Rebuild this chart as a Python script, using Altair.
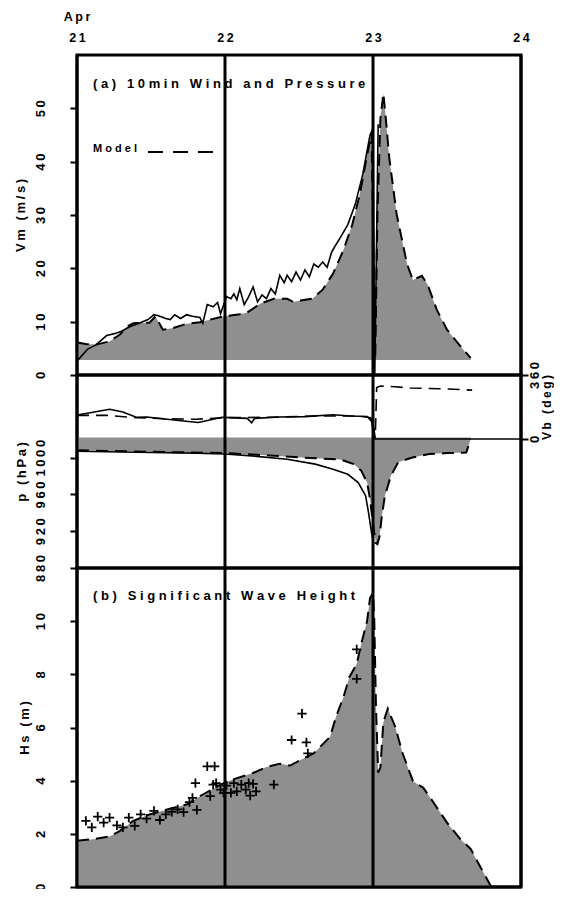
import altair as alt
import pandas as pd

FONT = "Liberation Sans"
GRAY = "#8f8f8f"
NB = "\u00a0"
TH = "\u2009"

# ---------------- data ----------------
x_ticks = [21, 22, 23, 24]
month_label = "Apr"
day_lines = [21, 22, 23, 24]

vm_ticks = [0, 10, 20, 30, 40, 50]
p_ticks = [880, 920, 960, 1000]
vb_ticks = [0, 360]
hs_ticks = [0, 2, 4, 6, 8, 10]

# (a) wind speed
vm_base = 2.8
vm_model_day = [21.00, 21.06, 21.13, 21.22, 21.29, 21.34, 21.38, 21.49, 21.53, 21.58, 21.65, 21.74,
                21.83, 21.99, 22.10, 22.15, 22.24, 22.33, 22.42, 22.46, 22.52, 22.59, 22.66, 22.73,
                22.80, 22.86, 22.91, 22.96, 22.99, 23.005, 23.015, 23.03, 23.05, 23.07, 23.09, 23.11,
                23.16, 23.23, 23.27, 23.33, 23.37, 23.43, 23.50, 23.59, 23.66]
vm_model_val = [6.1, 5.8, 5.7, 6.3, 7.6, 9.1, 9.7, 9.8, 11.0, 8.5, 8.8, 9.6,
                9.9, 11.0, 11.4, 11.7, 13.4, 14.3, 14.3, 13.7, 14.0, 14.3, 16.0, 19.0,
                23.4, 28.2, 33.8, 41.2, 45.3, 20.0, 3.2, 30.0, 48.0, 52.8, 47.0, 40.7,
                30.1, 20.8, 17.8, 18.6, 16.9, 12.3, 8.5, 5.4, 3.2]
vm_obs_day = [21.00, 21.07, 21.13, 21.20, 21.26, 21.30, 21.36, 21.42, 21.48, 21.52, 21.55, 21.60,
              21.63, 21.66, 21.70, 21.74, 21.78, 21.83, 21.85, 21.88, 21.92, 21.95, 21.97, 22.01,
              22.04, 22.06, 22.08, 22.10, 22.13, 22.16, 22.19, 22.22, 22.25, 22.28, 22.31, 22.34,
              22.37, 22.40, 22.42, 22.45, 22.48, 22.51, 22.54, 22.57, 22.60, 22.63, 22.66, 22.69,
              22.72, 22.74, 22.78, 22.83, 22.88, 22.93, 22.98, 23.00, 23.012, 23.035]
vm_obs_val = [2.6, 4.8, 5.7, 7.4, 7.8, 8.2, 9.1, 9.7, 10.4, 11.3, 11.1, 10.6,
              10.4, 11.3, 10.6, 11.3, 11.0, 10.8, 9.7, 13.2, 12.8, 13.6, 11.5, 14.7,
              14.3, 15.2, 14.1, 16.2, 13.2, 14.7, 16.5, 13.7, 15.0, 14.3, 16.2, 15.2,
              18.7, 17.3, 18.7, 17.5, 19.3, 17.8, 19.7, 18.4, 20.8, 20.2, 21.2, 20.2,
              23.0, 24.0, 25.8, 28.2, 32.0, 37.5, 45.0, 46.2, 0.3, 47.0]

# pressure
p_base = 1022
p_model_day = [21.0, 21.5, 22.0, 22.3, 22.54, 22.78, 22.87, 22.92, 22.96, 22.98, 23.005, 23.02,
               23.03, 23.045, 23.06, 23.08, 23.12, 23.17, 23.26, 23.38, 23.50, 23.63, 23.66]
p_model_val = [1008, 1006.5, 1005, 1002.5, 1000, 998, 993, 986, 973, 955, 922, 907,
               906, 915, 937, 958, 980, 995, 1000, 1004, 1005, 1005.7, 1020]
p_obs_day = [21.0, 21.2, 21.5, 21.8, 22.0, 22.18, 22.42, 22.61, 22.73, 22.83, 22.90, 22.95,
             22.97, 22.99, 23.005]
p_obs_val = [1007, 1006.5, 1005.7, 1005, 1004, 1002, 998.4, 993, 987.5, 982, 973, 958.7,
             940, 918.5, 906]

# wind direction
vb_obs_day = [21.0, 21.09, 21.22, 21.31, 21.40, 21.47, 21.61, 21.72, 21.82, 21.92, 21.98, 22.03,
              22.15, 22.18, 22.20, 22.37, 22.54, 22.73, 22.85, 22.96, 22.99, 23.007, 23.012, 24.0]
vb_obs_val = [135, 148, 167, 152, 122, 124, 111, 101, 93, 111, 122, 120,
              116, 91, 116, 124, 126, 136, 129, 127, 100, 17, 0, 0]
vb_model_day = [21.0, 21.2, 21.4, 21.6, 21.8, 22.0, 22.3, 22.6, 22.9, 22.985, 23.005, 23.015,
                23.025, 23.05, 23.15, 23.25, 23.45, 23.67]
vb_model_val = [133, 133, 120, 114, 111, 120, 122, 129, 129, 120, 60, 5,
                290, 298, 294, 287, 283, 275]

# (b) significant wave height
hs_model_day = [21.00, 21.11, 21.22, 21.29, 21.38, 21.49, 21.61, 21.74, 21.85, 21.97, 22.05, 22.19,
                22.28, 22.37, 22.44, 22.51, 22.60, 22.71, 22.75, 22.80, 22.84, 22.89, 22.92, 22.96,
                22.98, 23.00, 23.008, 23.02, 23.035, 23.05, 23.07, 23.10, 23.15, 23.20, 23.27, 23.34,
                23.41, 23.50, 23.59, 23.66, 23.72, 23.80]
hs_model_val = [1.74, 1.80, 1.90, 2.11, 2.49, 2.73, 2.92, 3.10, 3.48, 3.85, 4.04, 4.29,
                4.51, 4.64, 4.57, 4.78, 5.03, 5.65, 6.40, 7.14, 7.89, 8.39, 9.13, 10.0,
                10.87, 11.06, 10.2, 6.8, 4.3, 4.5, 6.2, 6.71, 6.03, 5.03, 3.98, 3.73,
                3.17, 2.42, 1.80, 1.43, 0.81, 0.0]
hs_obs_day = [21.06, 21.10, 21.14, 21.18, 21.22, 21.27, 21.31, 21.35, 21.39, 21.43, 21.47, 21.52,
              21.56, 21.60, 21.64, 21.68, 21.72, 21.76, 21.78, 21.81, 21.80, 21.88, 21.93, 21.90,
              21.92, 21.94, 21.97, 21.99, 22.01, 22.04, 22.06, 22.08, 22.11, 22.14, 22.16, 22.17,
              22.19, 22.21, 22.33, 22.45, 22.52, 22.55, 22.56, 22.89, 22.89]
hs_obs_val = [2.49, 2.24, 2.65, 2.42, 2.61, 2.32, 2.24, 2.61, 2.30, 2.73, 2.57, 2.86,
              2.52, 2.73, 2.83, 2.92, 2.82, 3.19, 3.35, 2.90, 3.91, 4.54, 4.54, 3.42,
              3.85, 3.91, 3.66, 3.54, 3.81, 3.54, 3.91, 3.60, 3.85, 3.66, 3.91, 3.44,
              3.88, 3.60, 3.85, 5.53, 6.52, 5.44, 5.03, 8.94, 7.83]

title_a = "(a) 10min Wind and Pressure"
title_b = "(b) Significant Wave Height"
legend_label = "Model"

# ---------------- helpers ----------------
def spaced(s, sep=NB):
    return sep.join(list(s))


def label_expr(values):
    parts = ["datum.value == %s ? '%s' : " % (v, spaced(str(v), TH)) for v in values]
    return "".join(parts) + "datum.label"


W = 444
H_A, H_P, H_B = 320, 193, 319
x_scale = alt.Scale(domain=[21, 24], nice=False, zero=False)
LAB = 13
TFS = 13


def left_axis(values, title, title_pad=7):
    return alt.Axis(values=values, title=spaced(title, TH), labelAngle=270, labelAlign="center",
                    labelBaseline="bottom", labelPadding=23, labelExpr=label_expr(values),
                    titlePadding=title_pad, labelOverlap=False)


def frame_rules(xaxis=None):
    return alt.Chart(pd.DataFrame({"day": day_lines})).mark_rule(
        color="black", strokeWidth=3).encode(x=alt.X("day:Q", scale=x_scale, axis=xaxis))


def label_text(text, x, y, size, align="left", baseline="alphabetic"):
    return alt.Chart(pd.DataFrame({"t": [text]})).mark_text(
        align=align, baseline=baseline, font=FONT, fontWeight="bold", fontSize=size,
        color="black").encode(x=alt.value(x), y=alt.value(y), text="t:N")


top_axis = alt.Axis(orient="top", values=x_ticks, labelExpr=label_expr(x_ticks),
                    ticks=False, tickSize=0, labelPadding=11,
                    labelFlush=False, title=None, labelFontSize=12.5, labelOverlap=False)

# ---------------- panel (a) wind ----------------
vm_model_df = pd.DataFrame({"day": vm_model_day, "v": vm_model_val, "base": vm_base})
vm_obs_df = pd.DataFrame({"day": vm_obs_day, "v": vm_obs_val})
vm_scale = alt.Scale(domain=[0, 60], nice=False)
vm_axis = left_axis(vm_ticks, "Vm (m/s)")
XA = alt.X("day:Q", scale=x_scale, axis=top_axis)
YA = alt.Y("v:Q", scale=vm_scale, axis=vm_axis)

vm_area = alt.Chart(vm_model_df).mark_area(color=GRAY, opacity=1).encode(x=XA, y=YA, y2="base:Q")
vm_model_line = alt.Chart(vm_model_df).mark_line(
    color="black", strokeWidth=2, strokeDash=[12, 7]).encode(x=XA, y=YA)
vm_obs_line = alt.Chart(vm_obs_df).mark_line(color="black", strokeWidth=1.6).encode(x=XA, y=YA)
legend_line = alt.Chart(pd.DataFrame({"t": [legend_label]})).mark_rule(
    color="black", strokeWidth=2, strokeDash=[15, 10]).encode(
    x=alt.value(71), x2=alt.value(136), y=alt.value(97))

panel_a = alt.layer(
    vm_area, vm_model_line, vm_obs_line, frame_rules(top_axis),
    label_text(spaced(title_a), 16, 32.5, 13),
    label_text(spaced(legend_label), 16, 97, 11),
    legend_line,
    label_text(spaced(month_label, TH), 0, -38, 12.5, align="center", baseline="middle"),
).properties(width=W, height=H_A)

# ---------------- middle panel: pressure and direction ----------------
XN = alt.X("day:Q", scale=x_scale, axis=None)
p_model_df = pd.DataFrame({"day": p_model_day, "p": p_model_val, "base": p_base})
p_obs_df = pd.DataFrame({"day": p_obs_day, "p": p_obs_val})
p_scale = alt.Scale(domain=[880, 1090], nice=False, zero=False)
YP = alt.Y("p:Q", scale=p_scale, axis=left_axis(p_ticks, "p (hPa)", 6))

p_area = alt.Chart(p_model_df).mark_area(color=GRAY, opacity=1).encode(x=XN, y=YP, y2="base:Q")
p_model_line = alt.Chart(p_model_df).mark_line(
    color="black", strokeWidth=2, strokeDash=[12, 7]).encode(x=XN, y=YP)
p_obs_line = alt.Chart(p_obs_df).mark_line(color="black", strokeWidth=1.6).encode(x=XN, y=YP)
p_group = alt.layer(p_area, p_model_line, p_obs_line)

vb_obs_df = pd.DataFrame({"day": vb_obs_day, "d": vb_obs_val})
vb_model_df = pd.DataFrame({"day": vb_model_day, "d": vb_model_val})
vb_scale = alt.Scale(domain=[0, 360], range=[64, 0], nice=False)
vb_axis = alt.Axis(orient="right", values=vb_ticks, title=spaced("Vb (deg)", TH),
                   labelAngle=270, labelAlign="center", labelBaseline="top", labelPadding=0,
                   labelExpr=label_expr(vb_ticks), titleAngle=270, titleBaseline="top",
                   titlePadding=0, titleFontSize=12, labelOverlap=False)
YV = alt.Y("d:Q", scale=vb_scale, axis=vb_axis)
vb_obs_line = alt.Chart(vb_obs_df).mark_line(color="black", strokeWidth=1.6).encode(x=XN, y=YV)
vb_model_line = alt.Chart(vb_model_df).mark_line(
    color="black", strokeWidth=1.6, strokeDash=[12, 7]).encode(x=XN, y=YV)
vb_group = alt.layer(vb_obs_line, vb_model_line)

panel_p = alt.layer(p_group, vb_group, frame_rules()).resolve_scale(
    y="independent").resolve_axis(y="independent").properties(width=W, height=H_P)

# ---------------- panel (b) wave height ----------------
hs_model_df = pd.DataFrame({"day": hs_model_day, "h": hs_model_val, "base": 0})
hs_obs_df = pd.DataFrame({"day": hs_obs_day, "h": hs_obs_val})
hs_scale = alt.Scale(domain=[0, 12], nice=False)
YH = alt.Y("h:Q", scale=hs_scale, axis=left_axis(hs_ticks, "Hs (m)", 3))

hs_area = alt.Chart(hs_model_df).mark_area(color=GRAY, opacity=1).encode(x=XN, y=YH, y2="base:Q")
hs_model_line = alt.Chart(hs_model_df).mark_line(
    color="black", strokeWidth=2, strokeDash=[12, 7]).encode(x=XN, y=YH)
hs_points = alt.Chart(hs_obs_df).mark_point(
    shape="M-1,0L1,0M0,-1L0,1", filled=False, stroke="black", strokeWidth=1.8, size=85,
    opacity=1).encode(x=XN, y=YH)
hs_bottom = alt.Chart(pd.DataFrame({"h": [0]})).mark_rule(color="black", strokeWidth=3).encode(y=YH)

panel_b = alt.layer(
    hs_area, hs_model_line, hs_points, frame_rules(), hs_bottom,
    label_text(spaced(title_b), 16, 31.5, 13),
).properties(width=W, height=H_B)

# The page is 562x897 with an 8px margin; the svg is fixed at 546x881 so that the
# whole page fits.  Plot block: left edge at x=77, top edge at y=55.
chart = alt.vconcat(panel_a, panel_p, panel_b, spacing=0, bounds="flush").properties(
    autosize=alt.AutoSizeParams(type="none"),
    padding={"left": 69, "top": 47, "right": 33, "bottom": 834},
    background="white",
).configure_view(stroke="black", strokeWidth=3).configure_axis(
    labelFont=FONT, labelFontWeight="bold", labelFontSize=LAB, labelColor="black",
    titleFont=FONT, titleFontWeight="bold", titleFontSize=TFS, titleColor="black",
    tickColor="black", tickWidth=2, tickSize=7, domain=False, grid=False,
)

chart.save("out.html", embed_options={"renderer": "svg", "actions": False})
